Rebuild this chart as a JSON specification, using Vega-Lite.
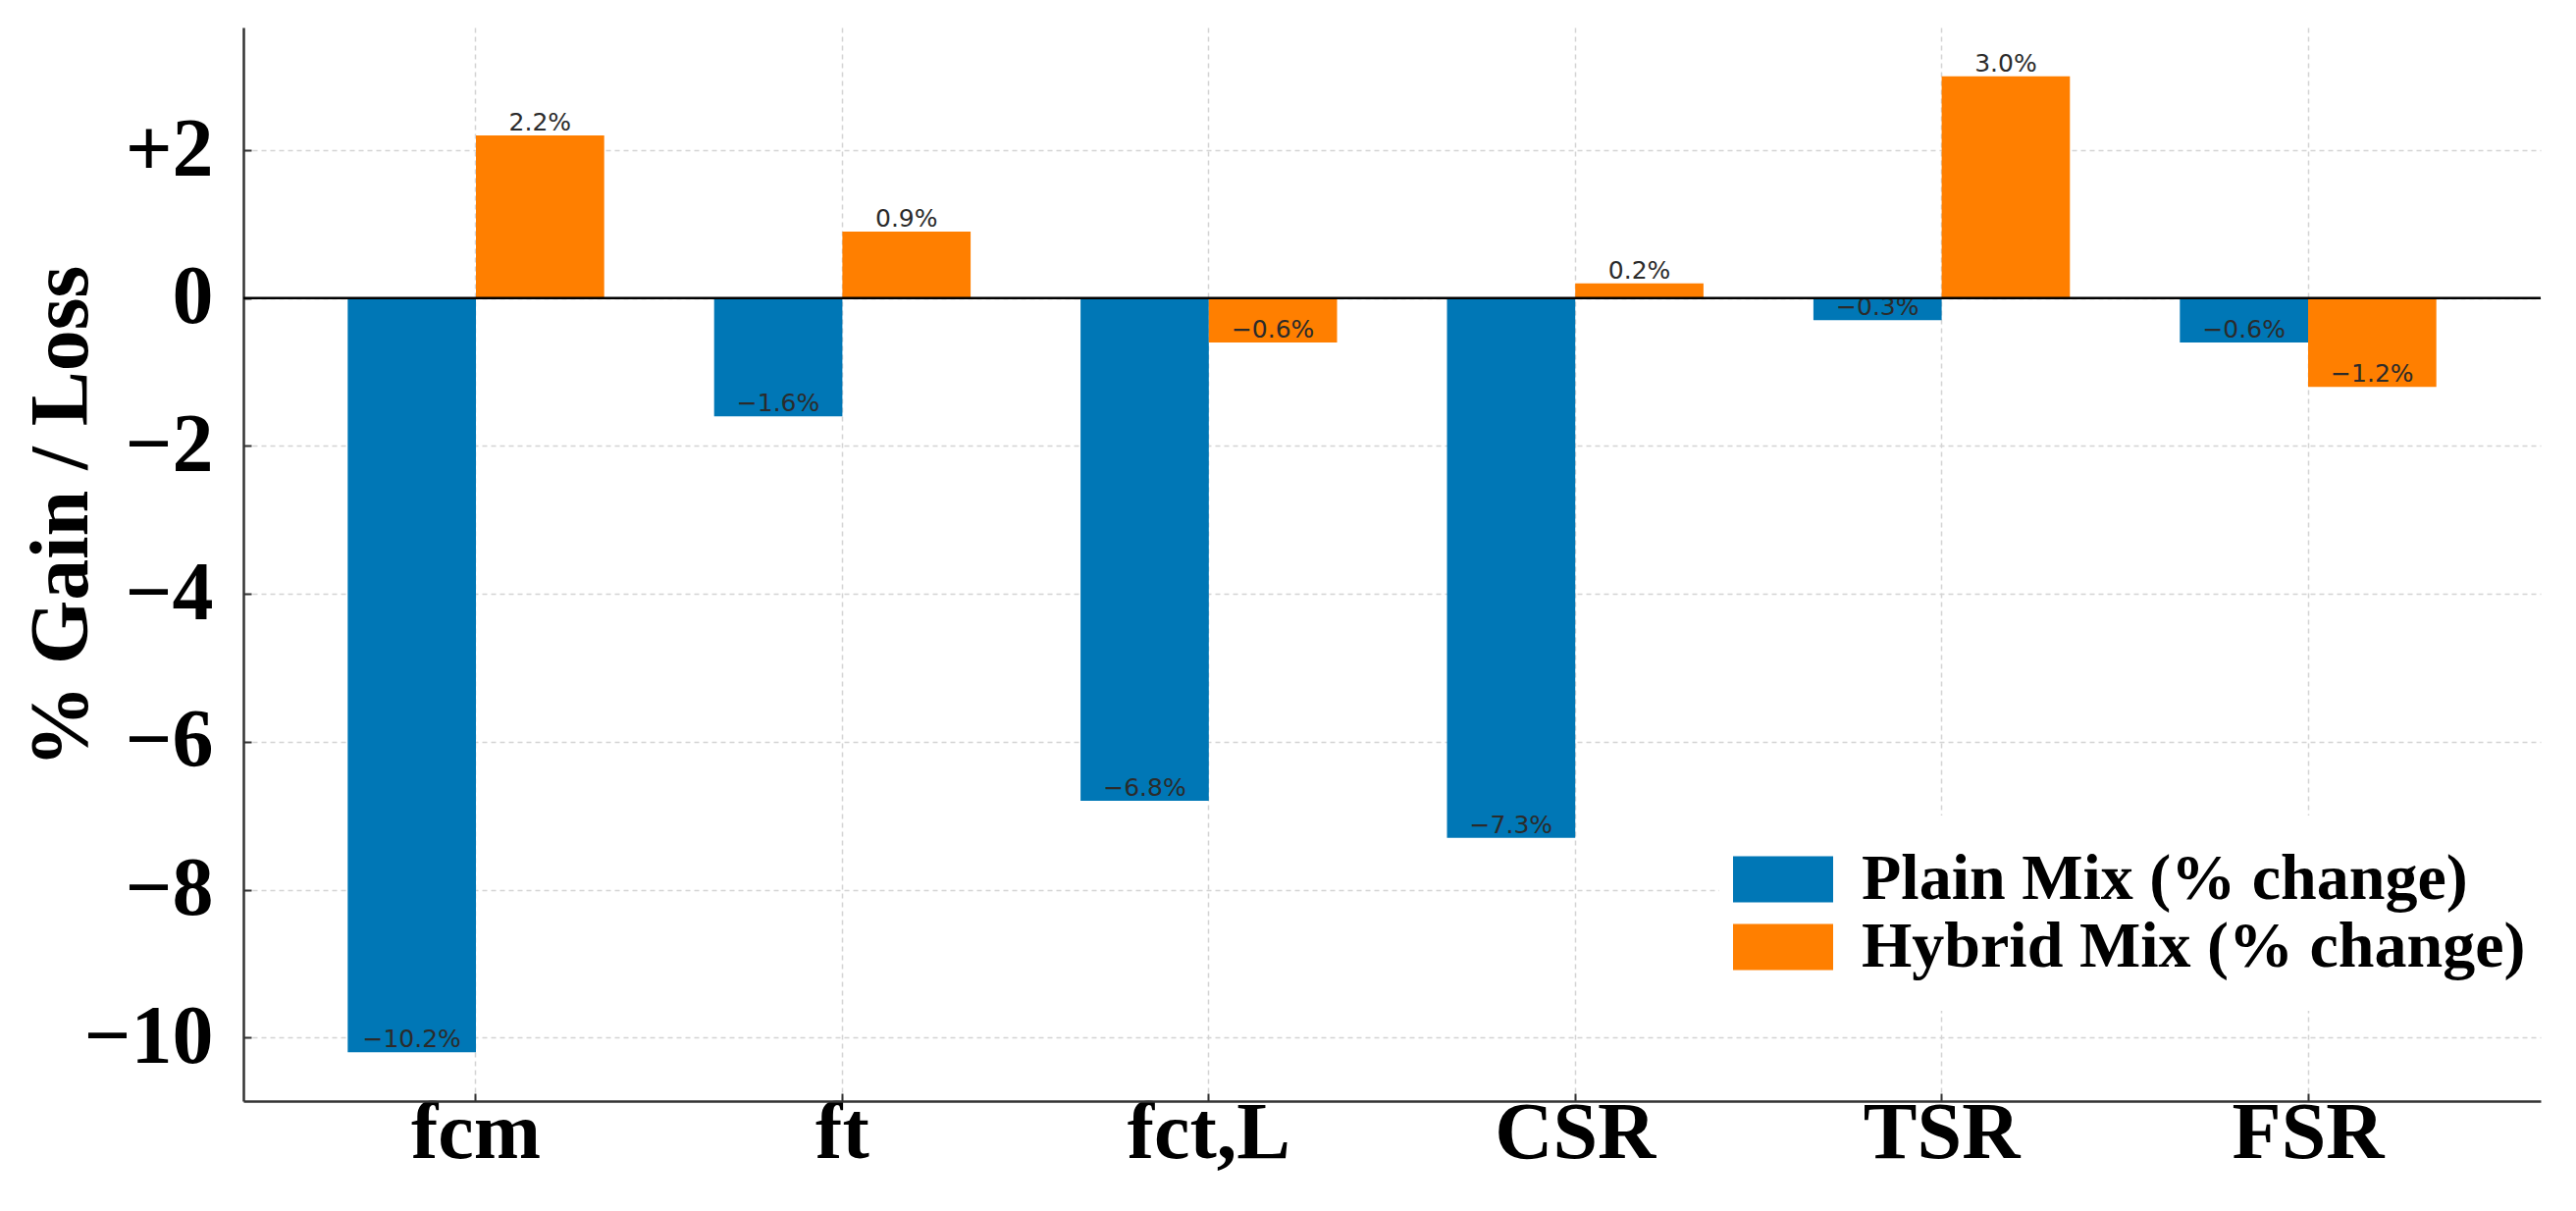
{
  "$schema": "https://vega.github.io/schema/vega-lite/v6.json",
  "width": 2341,
  "height": 1094,
  "autosize": {"type": "none"},
  "padding": {"left": 248, "top": 28, "right": 36, "bottom": 112},
  "background": "white",
  "config": {"view": {"stroke": null}},
  "data": {
    "values": [
      {"metric": "fcm", "series": "Plain Mix (% change)", "value": -10.2, "label": "−10.2%"},
      {"metric": "fcm", "series": "Hybrid Mix (% change)", "value": 2.2, "label": "2.2%"},
      {"metric": "ft", "series": "Plain Mix (% change)", "value": -1.6, "label": "−1.6%"},
      {"metric": "ft", "series": "Hybrid Mix (% change)", "value": 0.9, "label": "0.9%"},
      {"metric": "fct,L", "series": "Plain Mix (% change)", "value": -6.8, "label": "−6.8%"},
      {"metric": "fct,L", "series": "Hybrid Mix (% change)", "value": -0.6, "label": "−0.6%"},
      {"metric": "CSR", "series": "Plain Mix (% change)", "value": -7.3, "label": "−7.3%"},
      {"metric": "CSR", "series": "Hybrid Mix (% change)", "value": 0.2, "label": "0.2%"},
      {"metric": "TSR", "series": "Plain Mix (% change)", "value": -0.3, "label": "−0.3%"},
      {"metric": "TSR", "series": "Hybrid Mix (% change)", "value": 3.0, "label": "3.0%"},
      {"metric": "FSR", "series": "Plain Mix (% change)", "value": -0.6, "label": "−0.6%"},
      {"metric": "FSR", "series": "Hybrid Mix (% change)", "value": -1.2, "label": "−1.2%"}
    ]
  },
  "layer": [
    {
      "mark": {"type": "bar"},
      "encoding": {
        "x": {
          "field": "metric", "type": "nominal",
          "sort": ["fcm", "ft", "fct,L", "CSR", "TSR", "FSR"],
          "scale": {"paddingInner": 0, "paddingOuter": 0.1347},
          "axis": {
            "title": null,
            "labelAngle": 0,
            "labelFont": "Liberation Serif", "labelFontWeight": "bold", "labelFontSize": 82, "labelColor": "black",
            "labelBaseline": "top",
            "labelPadding": 0,
            "tickSize": -8, "tickColor": "#333", "tickWidth": 2,
            "domainColor": "#333", "domainWidth": 2.5,
            "grid": true, "gridColor": "#d4d4d4", "gridDash": [5, 4], "gridWidth": 1.5,
            "bandPosition": 0.5
          }
        },
        "xOffset": {
          "field": "series", "type": "nominal",
          "sort": ["Plain Mix (% change)", "Hybrid Mix (% change)"],
          "scale": {"paddingInner": 0, "paddingOuter": 0.4286}
        },
        "y": {
          "field": "value", "type": "quantitative",
          "scale": {"domain": [-10.86, 3.66], "nice": false, "zero": false},
          "axis": {
            "values": [-10, -8, -6, -4, -2, 0, 2],
            "format": "d",
            "title": "% Gain / Loss",
            "titleFont": "Liberation Serif", "titleFontWeight": "bold", "titleFontSize": 84, "titleColor": "black",
            "titleX": -160, "titleY": 498, "titleAngle": 270, "titleAlign": "center", "titleBaseline": "alphabetic",
            "labelFont": "Liberation Serif", "labelFontWeight": "bold", "labelFontSize": 84, "labelColor": "black",
            "labelExpr": "datum.value > 0 ? '+' + datum.label : datum.label",
            "labelPadding": 39, "labelLimit": 400,
            "tickSize": -8, "tickColor": "#333", "tickWidth": 2,
            "domainColor": "#333", "domainWidth": 2.5,
            "grid": true, "gridColor": "#d4d4d4", "gridDash": [5, 4], "gridWidth": 1.5
          }
        },
        "y2": {"datum": 0},
        "color": {
          "field": "series", "type": "nominal",
          "scale": {"domain": ["Plain Mix (% change)", "Hybrid Mix (% change)"], "range": ["#0077b6", "#ff7f00"]},
          "legend": {
            "title": null, "orient": "none", "legendX": 1504, "legendY": 803,
            "symbolType": "M-2,-0.92L2,-0.92L2,0.92L-2,0.92Z", "symbolSize": 2601, "symbolStrokeWidth": 0, "symbolOpacity": 1,
            "labelFont": "Liberation Serif", "labelFontWeight": "bold", "labelFontSize": 66, "labelColor": "black",
            "labelOffset": 47, "labelLimit": 1000,
            "rowPadding": 3, "padding": 32, "fillColor": "white", "strokeColor": null
          }
        }
      }
    },
    {
      "mark": {"type": "text", "baseline": "bottom", "align": "center", "font": "DejaVu Sans", "fontSize": 25, "color": "#2b2b2b"},
      "encoding": {
        "x": {"field": "metric", "type": "nominal", "sort": ["fcm", "ft", "fct,L", "CSR", "TSR", "FSR"]},
        "xOffset": {"field": "series", "type": "nominal", "sort": ["Plain Mix (% change)", "Hybrid Mix (% change)"]},
        "y": {"field": "value", "type": "quantitative"},
        "text": {"field": "label"}
      }
    },
    {
      "data": {"values": [{"zero": 0}]},
      "mark": {"type": "rule", "color": "black", "strokeWidth": 2.5},
      "encoding": {"y": {"field": "zero", "type": "quantitative"}}
    }
  ]
}
